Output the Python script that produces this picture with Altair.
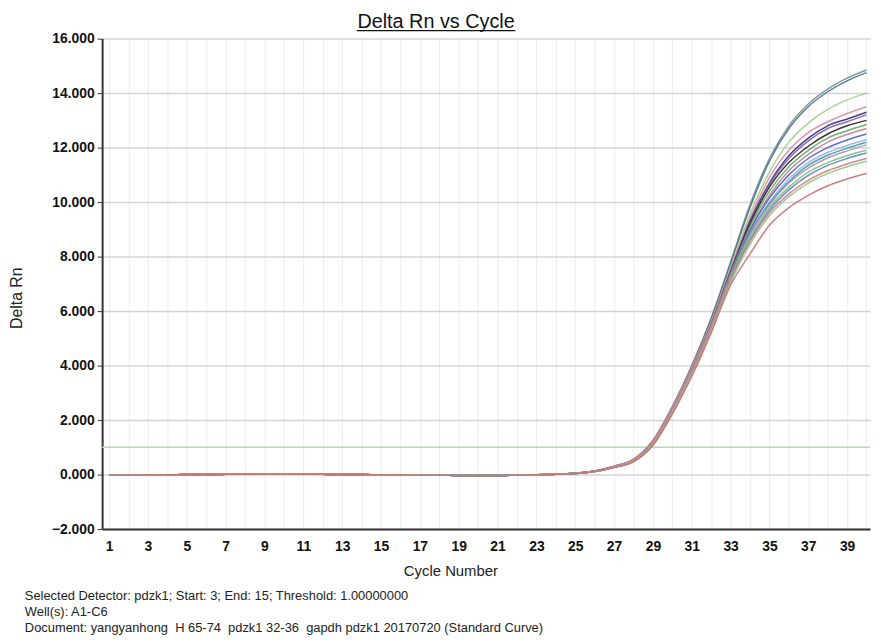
import altair as alt
import pandas as pd

cycles = list(range(1, 41))

# shared early baseline (cycles 1-24), all wells overlap here
baseline = [-0.02, -0.02, -0.01, -0.01, 0.00, 0.00, 0.01, 0.01, 0.02, 0.02, 0.01, 0.01,
            0.00, 0.00, -0.01, -0.01, -0.02, -0.02, -0.03, -0.03, -0.03, -0.02, -0.01, 0.01]

# per-well values for cycles 25-40
wells = ["A1", "A2", "A3", "A4", "A5", "A6", "B1", "B2", "B3", "B4", "B5", "B6",
         "C1", "C2", "C3", "C4", "C5", "C6"]
tails = [
    [0.05, 0.13, 0.31, 0.56, 1.25, 2.50, 4.00, 5.75, 7.80, 9.90, 11.6, 12.8, 13.6, 14.15, 14.55, 14.85],
    [0.05, 0.13, 0.30, 0.55, 1.23, 2.47, 3.95, 5.70, 7.75, 9.80, 11.5, 12.7, 13.5, 14.05, 14.45, 14.75],
    [0.04, 0.12, 0.29, 0.53, 1.20, 2.42, 3.88, 5.60, 7.60, 9.55, 11.1, 12.2, 12.9, 13.4, 13.75, 14.0],
    [0.05, 0.13, 0.31, 0.56, 1.24, 2.46, 3.92, 5.60, 7.55, 9.40, 10.9, 11.9, 12.55, 12.95, 13.25, 13.5],
    [0.04, 0.12, 0.29, 0.52, 1.18, 2.38, 3.82, 5.50, 7.45, 9.30, 10.7, 11.7, 12.35, 12.8, 13.05, 13.3],
    [0.05, 0.12, 0.30, 0.54, 1.20, 2.40, 3.85, 5.52, 7.45, 9.25, 10.65, 11.6, 12.25, 12.7, 12.95, 13.2],
    [0.04, 0.12, 0.29, 0.52, 1.17, 2.36, 3.80, 5.48, 7.40, 9.20, 10.55, 11.45, 12.05, 12.5, 12.8, 13.0],
    [0.05, 0.13, 0.30, 0.54, 1.21, 2.40, 3.83, 5.48, 7.38, 9.10, 10.4, 11.3, 11.9, 12.35, 12.62, 12.85],
    [0.05, 0.13, 0.31, 0.56, 1.24, 2.45, 3.88, 5.50, 7.35, 9.00, 10.25, 11.15, 11.75, 12.2, 12.48, 12.7],
    [0.04, 0.11, 0.28, 0.50, 1.14, 2.32, 3.75, 5.40, 7.30, 8.95, 10.15, 11.0, 11.6, 12.0, 12.28, 12.5],
    [0.04, 0.11, 0.27, 0.49, 1.12, 2.30, 3.72, 5.38, 7.25, 8.85, 10.0, 10.85, 11.45, 11.82, 12.08, 12.3],
    [0.05, 0.12, 0.29, 0.52, 1.17, 2.36, 3.78, 5.42, 7.28, 8.85, 9.95, 10.75, 11.35, 11.72, 11.98, 12.2],
    [0.05, 0.12, 0.30, 0.54, 1.20, 2.38, 3.80, 5.42, 7.25, 8.80, 9.90, 10.7, 11.25, 11.62, 11.88, 12.1],
    [0.04, 0.11, 0.28, 0.50, 1.13, 2.30, 3.72, 5.35, 7.20, 8.70, 9.80, 10.55, 11.1, 11.45, 11.7, 11.9],
    [0.04, 0.11, 0.27, 0.48, 1.10, 2.26, 3.68, 5.30, 7.12, 8.60, 9.70, 10.45, 10.98, 11.35, 11.6, 11.8],
    [0.05, 0.12, 0.29, 0.53, 1.18, 2.36, 3.76, 5.38, 7.15, 8.55, 9.60, 10.3, 10.8, 11.15, 11.4, 11.6],
    [0.04, 0.11, 0.27, 0.49, 1.11, 2.28, 3.68, 5.28, 7.05, 8.45, 9.50, 10.2, 10.7, 11.05, 11.3, 11.5],
    [0.04, 0.11, 0.26, 0.47, 1.07, 2.22, 3.60, 5.20, 6.95, 8.10, 9.15, 9.8, 10.25, 10.6, 10.85, 11.05],
]
colors = ["#6f8f9f", "#50707e", "#9ccf8c", "#d88ca6", "#2c2c7a", "#8a5aa8", "#222222", "#62a862",
          "#c0808f", "#4b5fc4", "#94b4e4", "#3f9a9a", "#b38dc0", "#74c274", "#5e7fd2", "#d47c7c",
          "#8fc88f", "#cc6f6f"]

threshold = 1.0
y_ticks = [-2, 0, 2, 4, 6, 8, 10, 12, 14, 16]

rows = []
for w, tail in zip(wells, tails):
    vals = baseline + tail
    for c, v in zip(cycles, vals):
        rows.append({"well": w, "cycle": c, "rn": v})
df = pd.DataFrame(rows)

FONT = "Liberation Sans"
W, H = 775, 495

xs = alt.Scale(domain=[0.64, 40.18], nice=False, zero=False)
ys = alt.Scale(domain=[-2, 16], nice=False, zero=False)

x_axis = alt.Axis(values=cycles, labelExpr="datum.value % 2 == 1 ? datum.value : ''",
                  labelOverlap=False, labelFont=FONT, labelFontSize=14, labelFontWeight="bold",
                  labelColor="#111111", labelPadding=11, ticks=False, grid=True,
                  gridColor="#ececec", gridWidth=1, domainColor="#333333", domainWidth=2,
                  title=None)
y_axis = alt.Axis(values=y_ticks, format=".3f", labelFont=FONT, labelFontSize=14,
                  labelFontWeight="bold", labelColor="#111111", labelPadding=3, tickSize=5,
                  tickColor="#333333", grid=True, gridColor="#d4d4d4", gridWidth=1.5,
                  domainColor="#333333", domainWidth=2, title=None)

lines = alt.Chart(df).mark_line(strokeWidth=1.5, opacity=0.9, interpolate="monotone").encode(
    x=alt.X("cycle:Q", scale=xs, axis=x_axis),
    y=alt.Y("rn:Q", scale=ys, axis=y_axis),
    color=alt.Color("well:N", scale=alt.Scale(domain=wells, range=colors), legend=None),
    detail="well:N",
)

thr = alt.Chart(pd.DataFrame({"t": [threshold]})).mark_rule(color="#b5dcb0", strokeWidth=1.5).encode(
    y=alt.Y("t:Q", scale=ys)
)

one = pd.DataFrame({"a": [0]})
title = alt.Chart(one).mark_text(text="Delta Rn vs Cycle", font=FONT, fontSize=20, color="#111111",
                                 align="center", baseline="alphabetic").encode(
    x=alt.value(337), y=alt.value(-11))
underline = alt.Chart(one).mark_rule(color="#111111", strokeWidth=1.2).encode(
    x=alt.value(257), x2=alt.value(417), y=alt.value(-8))
ytitle = alt.Chart(one).mark_text(text="Delta Rn", font=FONT, fontSize=16, color="#222222",
                                  angle=270, align="center", baseline="middle").encode(
    x=alt.value(-86), y=alt.value(262))
xtitle = alt.Chart(one).mark_text(text="Cycle Number", font=FONT, fontSize=15, color="#222222",
                                  align="center", baseline="middle").encode(
    x=alt.value(352), y=alt.value(537))

footer_lines = ["Selected Detector: pdzk1; Start: 3; End: 15; Threshold: 1.00000000",
                "Well(s): A1-C6",
                "Document: yangyanhong \u00a0H 65-74 \u00a0pdzk1 32-36 \u00a0gapdh pdzk1 20170720 (Standard Curve)"]
footers = [
    alt.Chart(one).mark_text(text=t, font=FONT, fontSize=13, color="#222222",
                             align="left", baseline="middle").encode(
        x=alt.value(-78), y=alt.value(563 + 16 * i))
    for i, t in enumerate(footer_lines)
]

chart = alt.layer(thr, lines, title, underline, ytitle, xtitle, *footers).properties(
    width=W, height=H,
    autosize=alt.AutoSizeParams(type="none"),
    padding={"left": 95, "top": 28, "right": 3, "bottom": 105},
    background="white",
).configure_view(stroke=None)

chart.save("out.html", embed_options={"renderer": "svg", "actions": False})
